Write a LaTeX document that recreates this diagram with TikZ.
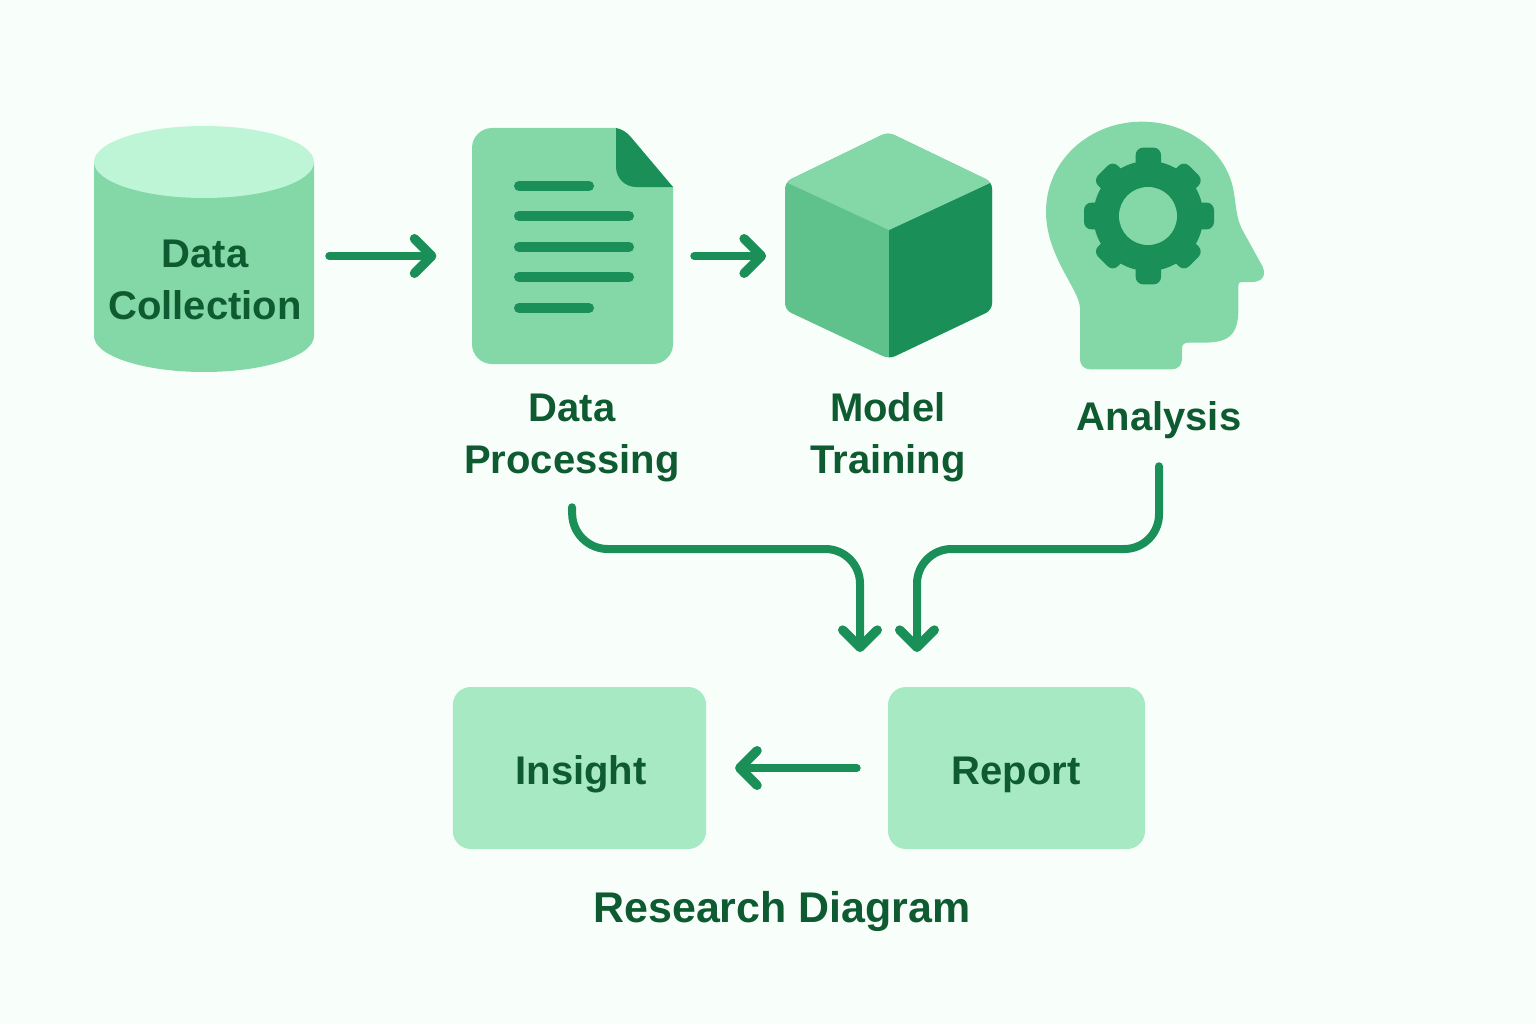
\documentclass[tikz,border=0pt]{standalone}
\usepackage{fontspec}
\setmainfont{Liberation Sans}
\usetikzlibrary{arrows.meta,calc}
\definecolor{bgc}{HTML}{F8FFFB}
\definecolor{midg}{HTML}{84D8A8}
\definecolor{lightg}{HTML}{BDF5D6}
\definecolor{boxg}{HTML}{A6E9C3}
\definecolor{darkg}{HTML}{1B8F58}
\definecolor{leftg}{HTML}{5FC28C}
\definecolor{textg}{HTML}{0E5A31}
\tikzset{
  lbl/.style={text=textg,font=\fontsize{30}{39}\selectfont\bfseries,align=center,inner sep=0pt},
  arr/.style={draw=darkg,line width=6pt,line cap=round,line join=round,-{Straight Barb[round,length=13pt,width=26pt,line width=7pt]}},
  iconbox/.style={inner sep=0pt,minimum height=1pt},
  flowbox/.style={fill=boxg,rounded corners=13.5pt,inner sep=0pt,minimum height=121.5pt},
  docline/.style={draw=darkg,line width=7.5pt,line cap=round},
}
\begin{document}
\begin{tikzpicture}[x=0.75pt,y=-0.75pt]
\useasboundingbox (0,0) rectangle (1536,1024);
\fill[bgc] (0,0) rectangle (1536,1024);
% cylinder
\fill[midg] (94,162) -- (94,336) arc[start angle=180,end angle=360,x radius=110,y radius=-36] -- (314,162) -- cycle;
\fill[lightg] (204,162) ellipse[x radius=110,y radius=36];
\node[iconbox,minimum width=165pt] (dc) at (204,256) {};
% document
\fill[midg] (492,128) -- (616,128) -- (673,187) -- (673,344) arc[start angle=0,end angle=90,x radius=20,y radius=20]
  -- (492,364) arc[start angle=90,end angle=180,x radius=20,y radius=20]
  -- (472,148) arc[start angle=180,end angle=270,x radius=20,y radius=20] -- cycle;
\fill[darkg] (616,128) .. controls (622,129) and (626,132) .. (630,136) -- (673,187) -- (636,187) .. controls (625,187) and (616,178) .. (616,167) -- cycle;
\foreach \y/\e in {186/589,216/629,247/629,277/629,308/589}
  \draw[docline] (519,\y) -- (\e,\y);
\node[iconbox,minimum width=150.75pt] (dp) at (572.5,256) {};
% cube
\def\cubeoutline{(888,132) -- (992,182) -- (992,310) -- (889,359) -- (785,310) -- (785,182) -- cycle}
\fill[leftg,rounded corners=5pt] \cubeoutline;
\begin{scope}
\clip[rounded corners=5pt] \cubeoutline;
\fill[darkg] (889,230) -- (1005,176) -- (1005,320) -- (889,370) -- cycle;
\fill[midg] (889,230) -- (1005,176) -- (888,120) -- (775,177) -- cycle;
\end{scope}
\node[iconbox,minimum width=155.25pt] (mt) at (888.5,256) {};
% head
\begin{scope}[shift={(1030,110)},x=0.25pt,y=-0.25pt]
\fill[midg] (150,595) .. controls (150,540) and (48,440) .. (48,305)
  .. controls (48,150) and (180,35) .. (335,35)
  .. controls (480,35) and (595,130) .. (612,250)
  .. controls (620,300) and (620,330) .. (640,365)
  -- (698,470) .. controls (710,500) and (695,516) .. (665,516)
  -- (635,516) .. controls (628,516) and (625,519) .. (625,526)
  -- (625,600) .. controls (625,680) and (590,698) .. (520,698)
  -- (475,698) .. controls (462,698) and (456,704) .. (456,716)
  -- (456,748) .. controls (456,765) and (443,778) .. (426,778)
  -- (180,778) .. controls (163,778) and (150,765) .. (150,748) -- cycle;
\fill[darkg] (355,318) circle[radius=165];
\foreach \a in {0,180}
  \fill[darkg,shift={(355,318)},rotate=\a,rounded corners=5.5pt] (-38,120) rectangle (38,205);
\foreach \a in {90,270}
  \fill[darkg,shift={(357,318)},rotate=\a,rounded corners=5.5pt] (-40,120) rectangle (40,195);
\foreach \a in {45,135,225,315}
  \fill[darkg,shift={(355,318)},rotate=\a,rounded corners=5.5pt] (-42,120) rectangle (42,193);
\fill[midg] (354,318) circle[radius=87];
\end{scope}
% labels
\node[lbl,minimum height=106pt] (dcl) at (205,280) {Data\\Collection};
\node[lbl,minimum height=103.5pt] (dpl) at (572,438) {Data\\Processing};
\node[lbl,minimum height=105pt] (mtl) at (888,437) {Model\\Training};
\node[lbl,minimum height=69pt] (anl) at (1159,420) {Analysis};
% boxes
\node[flowbox,minimum width=190pt] (ins) at (579.5,768) {};
\node[flowbox,minimum width=192.75pt] (rep) at (1016.5,768) {};
\node[lbl] (inst) at (581,774) {Insight};
\node[lbl] (rept) at (1016,775) {Report};
\node[lbl,font=\fontsize{32.2}{39}\selectfont\bfseries] (title) at (782,911) {Research Diagram};
\coordinate (in1) at (860,652);
\coordinate (in2) at (917,652);
% connectors
\draw[arr,shorten <=11.25pt,shorten >=26.5pt] (dc.east) -- (dp.west);
\draw[arr,shorten <=15.75pt,shorten >=14pt] (dp.east) -- (mt.west);
\draw[arr,rounded corners=26pt] (dpl.south) -- (573,549) -- (860,549) -- (in1);
\draw[arr,rounded corners=26pt] (anl.south) -- (1159,549) -- (917,549) -- (in2);
\draw[arr,shorten <=23.25pt,shorten >=21.5pt] (rep.west) -- (ins.east);
\end{tikzpicture}
\end{document}
